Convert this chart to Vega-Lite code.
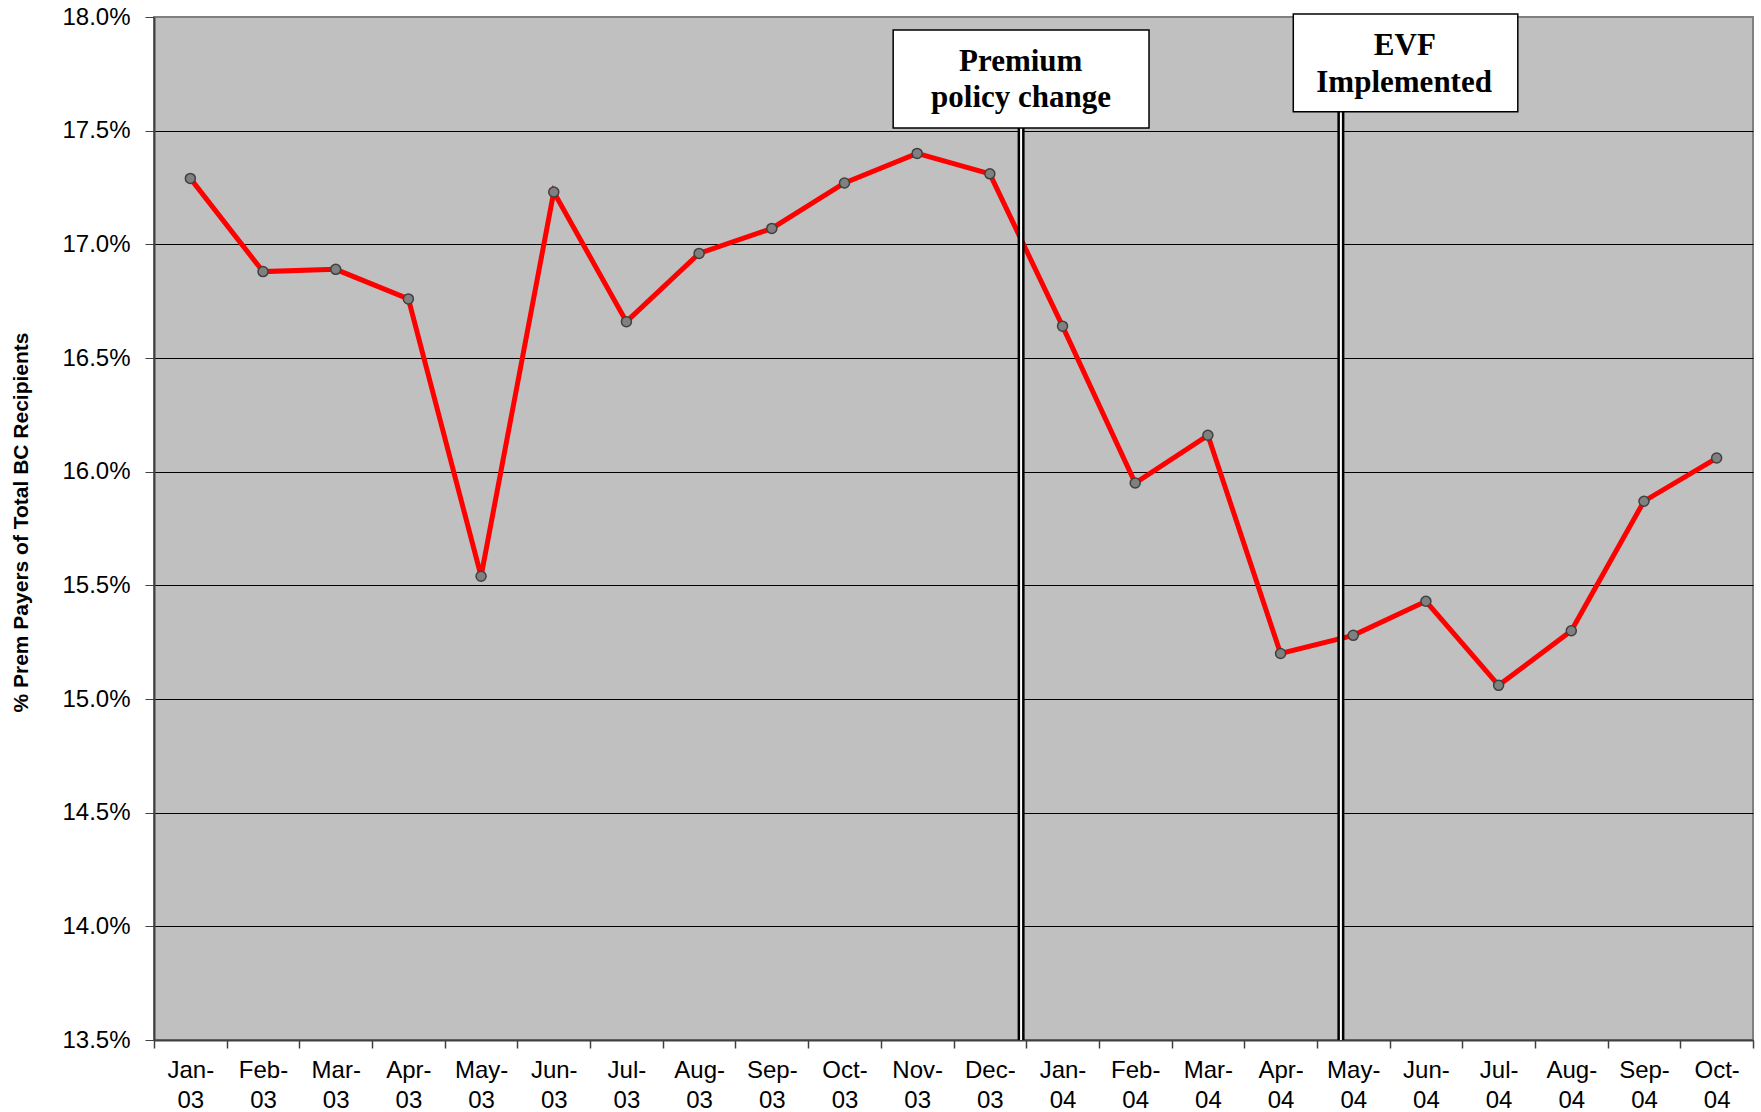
{
  "$schema": "https://vega.github.io/schema/vega-lite/v6.json",
  "width": 1599,
  "height": 1023,
  "autosize": {"type": "none"},
  "padding": {"left": 154, "top": 17, "right": 8, "bottom": 72},
  "background": "white",
  "config": {
    "view": {"fill": "#c0c0c0", "stroke": "#808080", "strokeWidth": 2},
    "axis": {"labelFont": "Liberation Sans", "labelFontSize": 24, "labelColor": "black"}
  },
  "datasets": {
    "series": [
      {"month": "Jan-03", "v": 17.29},
      {"month": "Feb-03", "v": 16.88},
      {"month": "Mar-03", "v": 16.89},
      {"month": "Apr-03", "v": 16.76},
      {"month": "May-03", "v": 15.54},
      {"month": "Jun-03", "v": 17.23},
      {"month": "Jul-03", "v": 16.66},
      {"month": "Aug-03", "v": 16.96},
      {"month": "Sep-03", "v": 17.07},
      {"month": "Oct-03", "v": 17.27},
      {"month": "Nov-03", "v": 17.40},
      {"month": "Dec-03", "v": 17.31},
      {"month": "Jan-04", "v": 16.64},
      {"month": "Feb-04", "v": 15.95},
      {"month": "Mar-04", "v": 16.16},
      {"month": "Apr-04", "v": 15.20},
      {"month": "May-04", "v": 15.28},
      {"month": "Jun-04", "v": 15.43},
      {"month": "Jul-04", "v": 15.06},
      {"month": "Aug-04", "v": 15.30},
      {"month": "Sep-04", "v": 15.87},
      {"month": "Oct-04", "v": 16.06}
    ],
    "vlines": [
      {"x": 11.93, "y1": 13.5, "y2": 17.512},
      {"x": 16.33, "y1": 13.5, "y2": 17.583}
    ],
    "boxes": [
      {"x1": 10.17, "x2": 13.69, "y1": 17.943, "y2": 17.512},
      {"x1": 15.675, "x2": 18.764, "y1": 18.013, "y2": 17.583}
    ],
    "labels": [
      {"x": 11.925, "y": 17.762, "t": "Premium"},
      {"x": 11.93, "y": 17.604, "t": "policy change"},
      {"x": 17.21, "y": 17.833, "t": "EVF"},
      {"x": 17.20, "y": 17.670, "t": "Implemented"}
    ]
  },
  "encoding": {
    "y": {
      "field": "v", "type": "quantitative",
      "title": "% Prem Payers of Total BC Recipients",
      "scale": {"domain": [13.5, 18], "nice": false, "zero": false},
      "axis": {
        "values": [13.5, 14, 14.5, 15, 15.5, 16, 16.5, 17, 17.5, 18],
        "labelExpr": "format(datum.value, '.1f') + '%'",
        "grid": true,
        "gridColor": {"condition": {"test": "datum.value == 18", "value": "#808080"}, "value": "black"},
        "gridWidth": 1,
        "tickSize": 9, "tickColor": "#404040", "domainColor": "#404040", "domainWidth": 2,
        "labelPadding": 15,
        "titleFont": "Liberation Sans", "titleFontSize": 21, "titleFontWeight": "bold",
        "titleColor": "black", "titleAngle": -90, "titleAlign": "center", "titleBaseline": "middle",
        "titleX": -133, "titleY": 505
      }
    }
  },
  "layer": [
    {
      "data": {"name": "series"},
      "encoding": {
        "x": {
          "field": "month", "type": "ordinal", "sort": null,
          "scale": {"type": "band", "paddingInner": 0, "paddingOuter": 0},
          "axis": {
            "orient": "bottom",
            "title": null, "labelAngle": 0, "tickBand": "extent", "tickSize": 8,
            "tickColor": "#404040", "tickWidth": 1.5, "domainColor": "#404040", "domainWidth": 2,
            "labelPadding": 10, "labelBaseline": "top", "labelLineHeight": 30,
            "labelOverlap": false, "grid": false,
            "labelExpr": "isValid(datum.value) ? [slice(datum.value, 0, 4), slice(datum.value, 4)] : ''"
          }
        }
      },
      "layer": [
        {"mark": {"type": "line", "color": "#ff0000", "strokeWidth": 5}},
        {"mark": {"type": "point", "shape": "circle", "filled": true, "fill": "#808080", "stroke": "#404040", "strokeWidth": 1.5, "size": 100, "opacity": 1}}
      ]
    },
    {
      "layer": [
        {
          "data": {"name": "vlines"},
          "mark": {"type": "rule", "color": "black", "strokeWidth": 7},
          "encoding": {
            "x": {"field": "x", "type": "quantitative", "scale": {"domain": [0, 22], "nice": false, "zero": false}, "axis": null},
            "y": {"field": "y1", "type": "quantitative", "title": "% Prem Payers of Total BC Recipients"},
            "y2": {"field": "y2"}
          }
        },
        {
          "data": {"name": "vlines"},
          "mark": {"type": "rule", "color": "white", "strokeWidth": 2},
          "encoding": {
            "x": {"field": "x", "type": "quantitative", "axis": null},
            "y": {"field": "y1", "type": "quantitative", "title": "% Prem Payers of Total BC Recipients"},
            "y2": {"field": "y2"}
          }
        },
        {
          "data": {"name": "boxes"},
          "mark": {"type": "rect", "fill": "white", "stroke": "black", "strokeWidth": 1.5},
          "encoding": {
            "x": {"field": "x1", "type": "quantitative", "axis": null},
            "x2": {"field": "x2"},
            "y": {"field": "y1", "type": "quantitative", "title": "% Prem Payers of Total BC Recipients"},
            "y2": {"field": "y2"}
          }
        },
        {
          "data": {"name": "labels"},
          "mark": {"type": "text", "font": "Liberation Serif", "fontWeight": "bold", "fontSize": 31, "color": "black", "align": "center", "baseline": "alphabetic"},
          "encoding": {
            "x": {"field": "x", "type": "quantitative", "axis": null},
            "y": {"field": "y", "type": "quantitative", "title": "% Prem Payers of Total BC Recipients"},
            "text": {"field": "t", "type": "nominal"}
          }
        }
      ]
    }
  ],
  "resolve": {"scale": {"x": "independent"}}
}
